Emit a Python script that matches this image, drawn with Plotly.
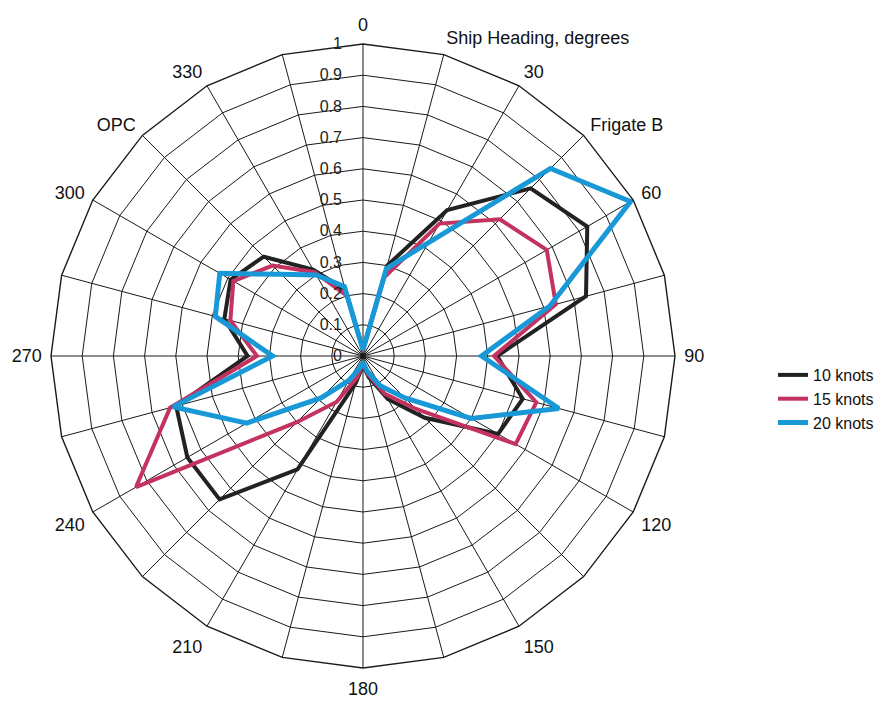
import plotly.graph_objects as go

headings = ["0", "15", "30", "45", "60", "75", "90", "105", "120", "135", "150", "165",
            "180", "195", "210", "225", "240", "255", "270", "285", "300", "315", "330", "345"]
heading_labels = ["0", "Ship Heading, degrees", "30", "Frigate B", "60", "", "90", "", "120", "", "150", "",
                  "180", "", "210", "", "240", "", "270", "", "300", "OPC", "330", ""]

knots10 = [0.02, 0.30, 0.54, 0.76, 0.83, 0.74, 0.43, 0.53, 0.50, 0.28, 0.16, 0.07,
           0.03, 0.09, 0.42, 0.65, 0.65, 0.62, 0.37, 0.46, 0.49, 0.45, 0.32, 0.22]
knots15 = [0.02, 0.26, 0.49, 0.62, 0.68, 0.64, 0.42, 0.575, 0.565, 0.24, 0.14, 0.06,
           0.02, 0.07, 0.17, 0.30, 0.84, 0.64, 0.34, 0.44, 0.48, 0.41, 0.31, 0.20]
knots20 = [0.02, 0.29, 0.42, 0.85, 0.99, 0.62, 0.38, 0.65, 0.40, 0.19, 0.11, 0.05,
           0.02, 0.04, 0.09, 0.19, 0.43, 0.63, 0.29, 0.49, 0.53, 0.37, 0.30, 0.23]

radial_ticks = [0, 0.1, 0.2, 0.3, 0.4, 0.5, 0.6, 0.7, 0.8, 0.9, 1]
radial_labels = ["0", "0.1", "0.2", "0.3", "0.4", "0.5", "0.6", "0.7", "0.8", "0.9", "1"]

series = [("10 knots", knots10, "#222222", 4),
          ("15 knots", knots15, "#c4325f", 4),
          ("20 knots", knots20, "#1898d6", 5)]

fig = go.Figure()
for name, vals, color, width in series:
    fig.add_trace(go.Scatterpolar(
        r=vals + vals[:1], theta=headings + headings[:1], mode="lines", name=name,
        line=dict(color=color, width=width)))

W, H = 889, 704
cx, cy, R = 355, 348, 312
fig.update_layout(
    width=W, height=H, margin=dict(l=0, r=0, t=0, b=0),
    paper_bgcolor="white", plot_bgcolor="white",
    font=dict(family="Liberation Sans, Arial, sans-serif", size=18, color="#111111"),
    polar=dict(
        domain=dict(x=[(cx - R) / W, (cx + R) / W], y=[(H - cy - R) / H, (H - cy + R) / H]),
        bgcolor="white",
        gridshape="linear",
        angularaxis=dict(type="category", categoryarray=headings, rotation=90, direction="clockwise",
                         tickmode="array", tickvals=headings, ticktext=heading_labels,
                         showgrid=True, gridcolor="#1a1a1a", gridwidth=1.2,
                         showline=True, linecolor="#1a1a1a", linewidth=1.4,
                         ticks="outside", ticklen=5, tickcolor="rgba(0,0,0,0)",
                         tickfont=dict(size=18, color="#111111")),
        radialaxis=dict(range=[0, 1], tickmode="array", tickvals=radial_ticks, ticktext=radial_labels,
                        angle=90, tickangle=90, side="counterclockwise",
                        showgrid=True, gridcolor="#1a1a1a", gridwidth=1.2,
                        showline=False, ticks="outside", ticklen=15, tickcolor="rgba(0,0,0,0)",
                        tickfont=dict(size=16, color="#222222"))),
    legend=dict(x=765 / W, y=1 - 350 / H, xanchor="left", yanchor="top",
                font=dict(size=16, color="#111111"), bgcolor="rgba(0,0,0,0)",
                tracegroupgap=0),
    showlegend=True)

fig.write_html("out.html")
